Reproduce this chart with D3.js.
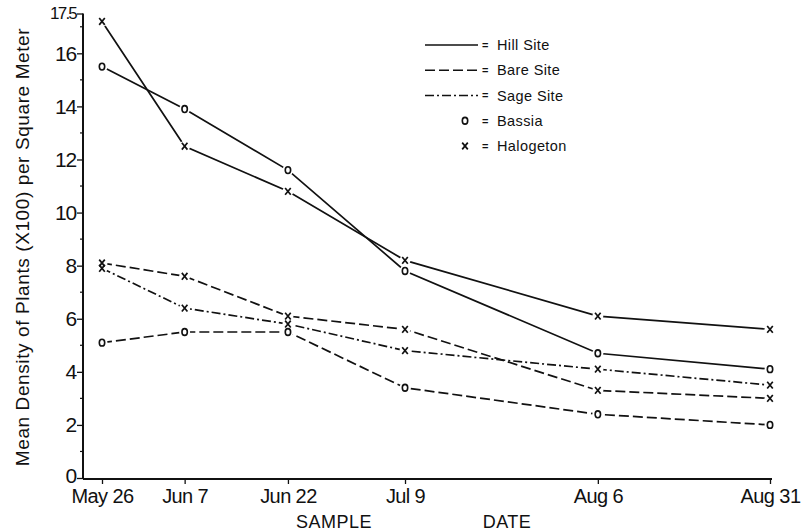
<!DOCTYPE html>
<html>
<head>
<meta charset="utf-8">
<script src="https://cdnjs.cloudflare.com/ajax/libs/d3/7.8.5/d3.min.js"></script>
<style>
  body { margin: 0; background: #fff; }
  text { font-family: "Liberation Sans", Arial, sans-serif; fill: #111; }
</style>
</head>
<body>
<div id="chart"></div>
<script>
// sample dates (year is arbitrary, spacing is in days)
const sampleDates = ["1977-05-26", "1977-06-07", "1977-06-22", "1977-07-09", "1977-08-06", "1977-08-31"];
const dateLabels = ["May 26", "Jun 7", "Jun 22", "Jul 9", "Aug 6", "Aug 31"];

// density (x100 plants per m2)
const hillBassia     = [15.5, 13.9, 11.6, 7.8, 4.7, 4.1];
const hillHalogeton  = [17.2, 12.5, 10.8, 8.2, 6.1, 5.6];
const bareBassia     = [5.1, 5.5, 5.5, 3.4, 2.4, 2.0];
const bareHalogeton  = [8.1, 7.6, 6.1, 5.6, 3.3, 3.0];
const sageHalogeton  = [7.9, 6.4, 5.8, 4.8, 4.1, 3.5];

const yTicks = [0, 2, 4, 6, 8, 10, 12, 14, 16, 17.5];
const yMinorTicks = [1, 3, 5, 7, 9, 11, 13, 15, 17];

const legendLines = ["Hill Site", "Bare Site", "Sage Site"];
const legendMarks = ["Bassia", "Halogeton"];

const width = 803, height = 531;
const parse = d3.timeParse("%Y-%m-%d");
const dates = sampleDates.map(parse);

const dashes = { hill: null, bare: "10,4", sage: "9,3,2,3" };

const series = [
  { site: "hill", mark: "o", values: hillBassia },
  { site: "hill", mark: "x", values: hillHalogeton },
  { site: "bare", mark: "o", values: bareBassia },
  { site: "bare", mark: "x", values: bareHalogeton },
  { site: "sage", mark: "x", values: sageHalogeton }
];

const svg = d3.select("#chart").append("svg")
  .attr("width", width)
  .attr("height", height);

const x = d3.scaleTime()
  .domain([dates[0], dates[dates.length - 1]])
  .range([102, 770]);

const y = d3.scaleLinear()
  .domain([0, 17.5])
  .range([478, 13.5]);

// --- axes ---
const yAxis = d3.axisLeft(y)
  .tickValues(yTicks)
  .tickSize(6)
  .tickPadding(1)
  .tickFormat(d => d === 17.5 ? "17.5" : d);

const gy = svg.append("g")
  .attr("transform", "translate(83,0)")
  .call(yAxis);
gy.select(".domain").attr("stroke", "#111").attr("stroke-width", 2)
  .attr("d", `M0,${y(17.5)}V${y(0) + 1}`);
gy.selectAll(".tick line").attr("stroke", "#111").attr("stroke-width", 1.3);
gy.selectAll(".tick text")
  .style("font-size", d => d === 17.5 ? "17px" : "21px")
  .attr("letter-spacing", d => d === 17.5 ? "-1.8" : "-1.2")
  .attr("dy", d => d === 0 ? "0.2em" : "0.32em")
  .attr("fill", "#111");

gy.selectAll(".minor")
  .data(yMinorTicks)
  .enter().append("line")
  .attr("class", "minor")
  .attr("x1", -3).attr("x2", 0)
  .attr("y1", d => y(d)).attr("y2", d => y(d))
  .attr("stroke", "#111").attr("stroke-width", 1.2);

const xAxis = d3.axisBottom(x)
  .tickValues(dates)
  .tickSize(5)
  .tickPadding(5)
  .tickFormat((d, i) => dateLabels[i]);

const gx = svg.append("g")
  .attr("transform", `translate(0,${y(0) + 1})`)
  .call(xAxis);
gx.select(".domain").attr("stroke", "#111").attr("stroke-width", 2)
  .attr("d", `M83,0H772`);
gx.selectAll(".tick line").attr("stroke", "#111").attr("stroke-width", 1.3);
gx.selectAll(".tick text")
  .style("font-size", "20px")
  .attr("letter-spacing", "-0.6")
  .attr("fill", "#111");

// axis titles
svg.append("text")
  .attr("transform", "translate(29,247) rotate(-90)")
  .attr("text-anchor", "middle")
  .style("font-size", "19px")
  .attr("letter-spacing", "0.6")
  .text("Mean Density of Plants (X100) per Square Meter");

svg.append("text")
  .attr("x", 334).attr("y", 528)
  .attr("text-anchor", "middle")
  .style("font-size", "18px")
  .attr("letter-spacing", "0.5")
  .text("SAMPLE");

svg.append("text")
  .attr("x", 507).attr("y", 528)
  .attr("text-anchor", "middle")
  .style("font-size", "18px")
  .attr("letter-spacing", "0.5")
  .text("DATE");

// --- lines ---
const line = d3.line()
  .x((d, i) => x(dates[i]))
  .y(d => y(d));

svg.selectAll(".series")
  .data(series)
  .enter().append("path")
  .attr("class", "series")
  .attr("d", d => line(d.values))
  .attr("fill", "none")
  .attr("stroke", "#111")
  .attr("stroke-width", 1.7)
  .attr("stroke-dasharray", d => dashes[d.site]);

// --- markers with white halo so lines stop short ---
const pts = series.flatMap(s => s.values.map((v, i) => ({ mark: s.mark, date: dates[i], v })));

svg.selectAll(".halo")
  .data(pts)
  .enter().append("circle")
  .attr("class", "halo")
  .attr("cx", d => x(d.date))
  .attr("cy", d => y(d.v))
  .attr("r", 5.5)
  .attr("fill", "#fff");

function drawMark(sel) {
  sel.each(function (d) {
    const g = d3.select(this);
    if (d.mark === "o") {
      g.append("ellipse").attr("rx", 2.7).attr("ry", 3.4)
        .attr("fill", "none").attr("stroke", "#111").attr("stroke-width", 1.6);
    } else {
      g.append("path").attr("d", "M-2.8,-3.4L2.8,3.4M2.8,-3.4L-2.8,3.4")
        .attr("stroke", "#111").attr("stroke-width", 1.7);
    }
  });
}

svg.selectAll(".mark")
  .data(pts)
  .enter().append("g")
  .attr("class", "mark")
  .attr("transform", d => `translate(${x(d.date)},${y(d.v)})`)
  .call(drawMark);

// --- legend ---
const legend = svg.append("g");
const legendSites = ["hill", "bare", "sage"];
const legendY = d3.scalePoint().domain(d3.range(5)).range([45, 146]);

legendLines.forEach((lab, i) => {
  legend.append("line")
    .attr("x1", 425).attr("x2", 478)
    .attr("y1", legendY(i)).attr("y2", legendY(i))
    .attr("stroke", "#111").attr("stroke-width", 1.5)
    .attr("stroke-dasharray", dashes[legendSites[i]]);
});
legendMarks.forEach((lab, j) => {
  const i = j + 3;
  legend.append("g")
    .datum({ mark: j === 0 ? "o" : "x" })
    .attr("transform", `translate(465,${legendY(i)})`)
    .call(drawMark);
});
legendLines.concat(legendMarks).forEach((lab, i) => {
  legend.append("text")
    .attr("x", 482).attr("y", legendY(i))
    .attr("dy", "0.35em")
    .style("font-size", "11px")
    .style("font-weight", "bold")
    .text("=");
  legend.append("text")
    .attr("x", 497).attr("y", legendY(i))
    .attr("dy", "0.35em")
    .style("font-size", "14.5px")
    .attr("letter-spacing", "0.4")
    .text(lab);
});
</script>
</body>
</html>
